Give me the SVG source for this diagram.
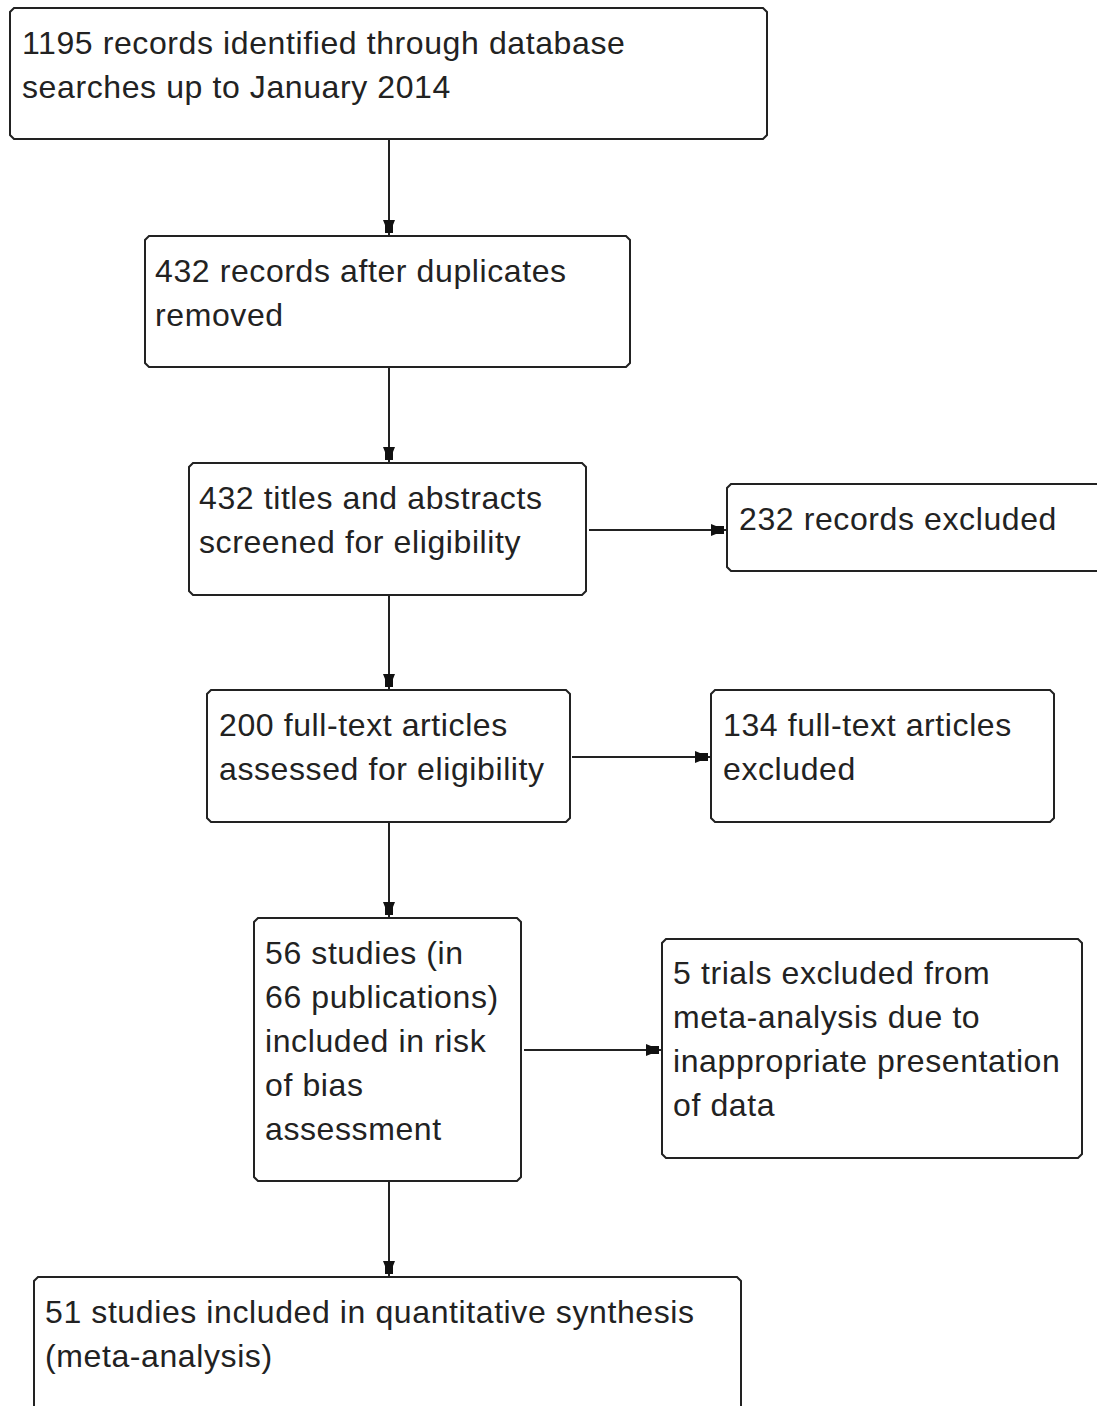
<svg xmlns="http://www.w3.org/2000/svg" width="1097" height="1406" viewBox="0 0 1097 1406">
<defs>
<style>
.box{fill:#fff;stroke:#222;stroke-width:2}
.t{font-family:"Liberation Sans",Arial,sans-serif;font-size:32px;letter-spacing:0.6px;fill:#222}
.c{stroke:#222;stroke-width:2;fill:none}
</style>
<marker id="ah" markerUnits="userSpaceOnUse" markerWidth="20" markerHeight="16" viewBox="-16 -8 20 16" refX="0" refY="0" orient="auto">
<path d="M-15,-6 L-10,-4 L-2,-4 L-2,4 L-10,4 L-15,6 Z" fill="#111"/>
</marker>
</defs>
<rect width="1097" height="1406" fill="#fff"/>
<g id="connectors">
<line class="c" x1="389" y1="140" x2="389" y2="235" marker-end="url(#ah)"/>
<line class="c" x1="389" y1="368" x2="389" y2="462" marker-end="url(#ah)"/>
<line class="c" x1="389" y1="596" x2="389" y2="689" marker-end="url(#ah)"/>
<line class="c" x1="389" y1="823" x2="389" y2="917" marker-end="url(#ah)"/>
<line class="c" x1="389" y1="1182" x2="389" y2="1276" marker-end="url(#ah)"/>
<line class="c" x1="589" y1="530" x2="726" y2="530" marker-end="url(#ah)"/>
<line class="c" x1="572" y1="757" x2="710" y2="757" marker-end="url(#ah)"/>
<line class="c" x1="524" y1="1050" x2="661" y2="1050" marker-end="url(#ah)"/>
</g>
<g id="n1"><path class="box" d="M14,8 H763 L767,12 V135 L763,139 H14 L10,135 V12 Z"/>
<text class="t" x="22" y="54">1195 records identified through database</text>
<text class="t" x="22" y="98">searches up to January 2014</text></g>
<g id="n2"><path class="box" d="M149,236 H626 L630,240 V363 L626,367 H149 L145,363 V240 Z"/>
<text class="t" x="155" y="282">432 records after duplicates</text>
<text class="t" x="155" y="326">removed</text></g>
<g id="n3"><path class="box" d="M193,463 H582 L586,467 V591 L582,595 H193 L189,591 V467 Z"/>
<text class="t" x="199" y="509">432 titles and abstracts</text>
<text class="t" x="199" y="553">screened for eligibility</text></g>
<g id="n4"><path class="box" d="M731,484 H1100 V571 H731 L727,567 V488 Z"/>
<text class="t" x="739" y="530">232 records excluded</text></g>
<g id="n5"><path class="box" d="M211,690 H566 L570,694 V818 L566,822 H211 L207,818 V694 Z"/>
<text class="t" x="219" y="736">200 full-text articles</text>
<text class="t" x="219" y="780">assessed for eligibility</text></g>
<g id="n6"><path class="box" d="M715,690 H1050 L1054,694 V818 L1050,822 H715 L711,818 V694 Z"/>
<text class="t" x="723" y="736">134 full-text articles</text>
<text class="t" x="723" y="780">excluded</text></g>
<g id="n7"><path class="box" d="M258,918 H517 L521,922 V1177 L517,1181 H258 L254,1177 V922 Z"/>
<text class="t" x="265" y="964">56 studies (in</text>
<text class="t" x="265" y="1008">66 publications)</text>
<text class="t" x="265" y="1052">included in risk</text>
<text class="t" x="265" y="1096">of bias</text>
<text class="t" x="265" y="1140">assessment</text></g>
<g id="n8"><path class="box" d="M666,939 H1078 L1082,943 V1154 L1078,1158 H666 L662,1154 V943 Z"/>
<text class="t" x="673" y="984">5 trials excluded from</text>
<text class="t" x="673" y="1028">meta-analysis due to</text>
<text class="t" x="673" y="1072">inappropriate presentation</text>
<text class="t" x="673" y="1116">of data</text></g>
<g id="n9"><path class="box" d="M38,1277 H737 L741,1281 V1410 H34 V1281 Z"/>
<text class="t" x="45" y="1323">51 studies included in quantitative synthesis</text>
<text class="t" x="45" y="1367">(meta-analysis)</text></g>
</svg>
